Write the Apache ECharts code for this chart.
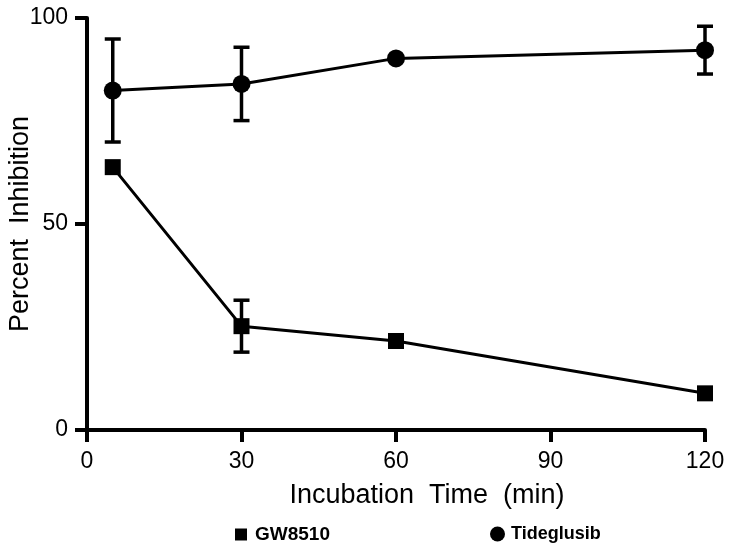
<!DOCTYPE html>
<html>
<head>
<meta charset="utf-8">
<script src="https://cdn.jsdelivr.net/npm/echarts@6/dist/echarts.min.js"></script>
<style>
html,body{margin:0;padding:0;background:#fff;}
#chart{width:732px;height:551px;}
</style>
</head>
<body>
<div id="chart"></div>
<script>
// Data
var times = [5, 30, 60, 120];
var gwMean = [63.8, 25.2, 21.6, 8.9];
var gwErr = [0, 6.3, 0, 0];
var tideMean = [82.4, 84.0, 90.2, 92.2];
var tideErr = [12.5, 8.9, 0, 5.8];
var xTicks = [0, 30, 60, 90, 120];
var yTicks = [0, 50, 100];

function pairs(xs, ys) { return xs.map(function (x, i) { return [x, ys[i]]; }); }
function errData(xs, m, e) {
  var out = [];
  xs.forEach(function (x, i) { if (e[i] > 0) out.push([x, m[i] - e[i], m[i] + e[i]]); });
  return out;
}

function errRender(params, api) {
  var x = api.value(0), lo = api.value(1), hi = api.value(2);
  var pLo = api.coord([x, lo]), pHi = api.coord([x, hi]);
  var cap = 8;
  var st = { stroke: '#000', lineWidth: 3.5 };
  return {
    type: 'group',
    children: [
      { type: 'line', shape: { x1: pLo[0], y1: pLo[1], x2: pHi[0], y2: pHi[1] }, style: st },
      { type: 'line', shape: { x1: pLo[0] - cap, y1: pLo[1], x2: pLo[0] + cap, y2: pLo[1] }, style: st },
      { type: 'line', shape: { x1: pHi[0] - cap, y1: pHi[1], x2: pHi[0] + cap, y2: pHi[1] }, style: st }
    ]
  };
}

var chart = echarts.init(document.getElementById('chart'), null, { renderer: 'canvas' });
var font = 'Liberation Sans, Arial, sans-serif';
chart.setOption({
  animation: false,
  backgroundColor: '#fff',
  grid: { left: 87, right: 27, top: 18, bottom: 121, containLabel: false, outerBoundsMode: 'none' },
  xAxis: {
    type: 'value', min: xTicks[0], max: xTicks[xTicks.length - 1], interval: 30,
    name: 'Incubation  Time  (min)', nameLocation: 'middle', nameGap: 52, nameMoveOverlap: false,
    nameTextStyle: { fontFamily: font, fontSize: 27, color: '#000', padding: [0, 0, 0, 62] },
    axisLine: { show: true, lineStyle: { color: '#000', width: 4 } },
    axisTick: { show: true, length: 12, lineStyle: { color: '#000', width: 4 } },
    axisLabel: { fontFamily: font, fontSize: 23, color: '#000', margin: 20 },
    splitLine: { show: false }
  },
  yAxis: {
    type: 'value', min: yTicks[0], max: yTicks[yTicks.length - 1], interval: 50,
    name: 'Percent  Inhibition', nameLocation: 'middle', nameGap: 53, nameRotate: 90, nameMoveOverlap: false,
    nameTextStyle: { fontFamily: font, fontSize: 27, color: '#000' },
    axisLine: { show: true, lineStyle: { color: '#000', width: 4 } },
    axisTick: { show: true, length: 12, lineStyle: { color: '#000', width: 4 } },
    axisLabel: { fontFamily: font, fontSize: 23, color: '#000', margin: 19 },
    splitLine: { show: false }
  },
  legend: [
    {
      data: [{ name: 'GW8510', icon: 'rect' }], left: 230, top: 520,
      itemWidth: 12, itemHeight: 12,
      textStyle: { fontFamily: font, fontSize: 19, fontWeight: 'bold', color: '#000', padding: [0, 0, 0, 3] }
    },
    {
      data: [{ name: 'Tideglusib', icon: 'circle' }], left: 485, top: 520,
      itemWidth: 15, itemHeight: 15,
      textStyle: { fontFamily: font, fontSize: 18, fontWeight: 'bold', color: '#000', padding: [0, 0, 0, 1] }
    }
  ],
  series: [
    {
      type: 'custom', name: 'gwErr', renderItem: errRender,
      data: errData(times, gwMean, gwErr), z: 2, silent: true
    },
    {
      type: 'custom', name: 'tideErr', renderItem: errRender,
      data: errData(times, tideMean, tideErr), z: 2, silent: true
    },
    {
      type: 'line', name: 'GW8510', data: pairs(times, gwMean),
      symbol: 'rect', symbolSize: 16, showAllSymbol: true,
      lineStyle: { color: '#000', width: 3 }, itemStyle: { color: '#000' }, z: 3
    },
    {
      type: 'line', name: 'Tideglusib', data: pairs(times, tideMean),
      symbol: 'circle', symbolSize: 18, showAllSymbol: true,
      lineStyle: { color: '#000', width: 3 }, itemStyle: { color: '#000' }, z: 3
    }
  ]
});
</script>
</body>
</html>
